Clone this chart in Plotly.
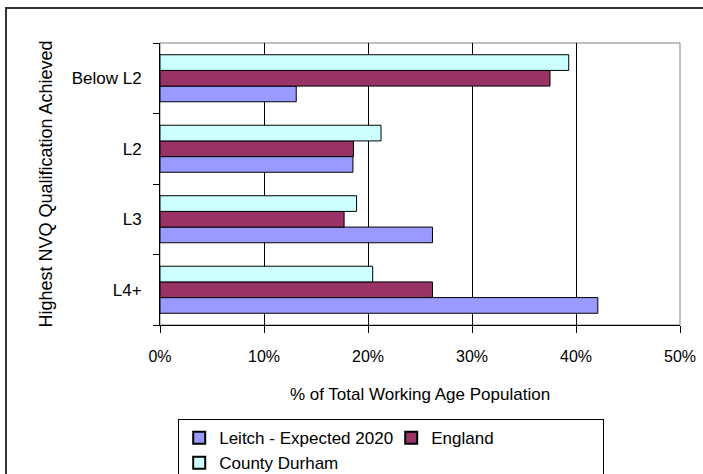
import plotly.graph_objects as go

categories = ["Below L2", "L2", "L3", "L4+"]
leitch_2020 = [0.131, 0.1855, 0.262, 0.421]
england = [0.375, 0.186, 0.177, 0.262]
county_durham = [0.393, 0.2125, 0.189, 0.2045]
x_ticks = [0, 0.1, 0.2, 0.3, 0.4, 0.5]

FONT = "Liberation Sans, Arial, sans-serif"

fig = go.Figure()
series = [
    ("Leitch - Expected 2020", leitch_2020, "#9999FF"),
    ("England", england, "#993366"),
    ("County Durham", county_durham, "#CCFFFF"),
]
for name, vals, col in series:
    fig.add_trace(go.Bar(
        y=categories, x=vals, name=name, orientation="h",
        marker=dict(color=col, line=dict(color="black", width=1)),
    ))

fig.update_layout(
    width=703, height=474,
    margin=dict(l=160, r=23, t=43, b=149, autoexpand=False),
    paper_bgcolor="white", plot_bgcolor="white",
    barmode="group", bargap=0.333, bargroupgap=0,
    font=dict(family=FONT, size=17, color="black"),
    showlegend=True,
    legend=dict(
        orientation="h", x=0.035, xanchor="left", y=-0.334, yanchor="top",
        bordercolor="black", borderwidth=1, bgcolor="white",
        font=dict(family=FONT, size=17, color="black"),
        entrywidth=167, itemsizing="constant", traceorder="normal",
        tracegroupgap=0,
    ),
    xaxis=dict(
        range=[0, 0.5], tickvals=x_ticks, tickformat=".0%",
        showgrid=True, gridcolor="black", gridwidth=1,
        showline=True, linecolor="black", linewidth=1,
        ticks="outside", ticklen=7, tickcolor="black",
        tickfont=dict(size=16), zeroline=False, ticklabelstandoff=10,
        title=dict(text="% of Total Working Age Population", font=dict(size=17), standoff=23),
    ),
    yaxis=dict(
        categoryorder="array", categoryarray=list(reversed(categories)),
        tickson="boundaries", ticks="outside", ticklen=6, tickcolor="black",
        showline=True, linecolor="black", linewidth=1,
        showgrid=False, ticklabelstandoff=14,
        tickfont=dict(size=17),
        title=dict(text="Highest NVQ Qualification Achieved", font=dict(size=18), standoff=14),
    ),
    shapes=[
        # plot area border (gray top/right)
        dict(type="rect", xref="paper", yref="paper", x0=0, x1=1, y0=0, y1=1,
             line=dict(color="#808080", width=1), layer="below"),
        # outer chart border
        dict(type="rect", xref="paper", yref="paper",
             x0=(6 - 160) / 520, x1=(720 - 160) / 520,
             y0=(325 - 490) / 282, y1=(325 - 8) / 282,
             line=dict(color="#333333", width=2), layer="below"),
    ],
)

fig.write_html("out.html")
